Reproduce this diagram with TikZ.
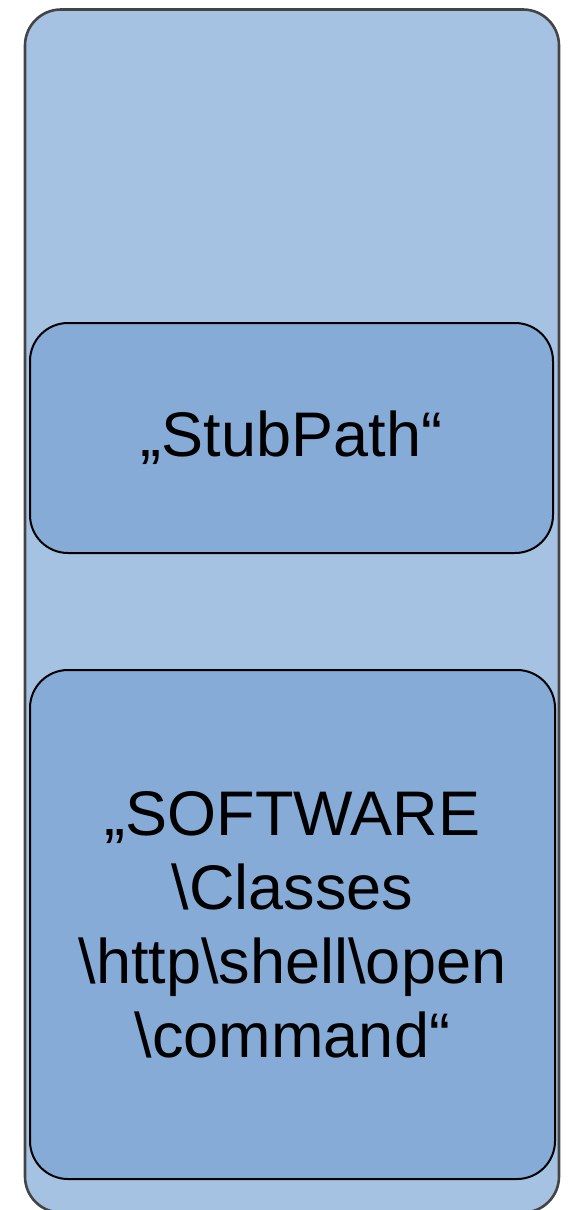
\documentclass[tikz,border=0pt]{standalone}
\usepackage{fontspec}
\setmainfont{Liberation Sans}
\usetikzlibrary{positioning}
\definecolor{outerblue}{HTML}{A5C2E2}
\definecolor{innerblue}{HTML}{86ABD7}
\definecolor{rimgray}{HTML}{444444}
\tikzset{
  keybox/.style={draw=black, line width=1pt, fill=innerblue, rounded corners=19pt,
    align=center, inner sep=0pt, font=\fontsize{31.5}{37}\selectfont},
  hivebox/.style={draw=rimgray, line width=1.3pt, fill=outerblue, rounded corners=18pt}
}
\begin{document}
\begin{tikzpicture}[x=0.5pt,y=-0.5pt]
\useasboundingbox (0,0) rectangle (575,1210);
\clip (0,0) rectangle (575,1210);
\node[hivebox, minimum width=267pt, minimum height=601.5pt] (hive) at (292,611) {};
\node[keybox, minimum width=261.5pt, minimum height=115pt] (stub) at (291.5,438) {„StubPath“};
\node[keybox, minimum width=262.5pt, minimum height=254.5pt] (cmd) at (292.5,924.5)
  {„SOFTWARE\\\textbackslash Classes\\\textbackslash http\textbackslash shell\textbackslash open\\\textbackslash command“};
\end{tikzpicture}
\end{document}
